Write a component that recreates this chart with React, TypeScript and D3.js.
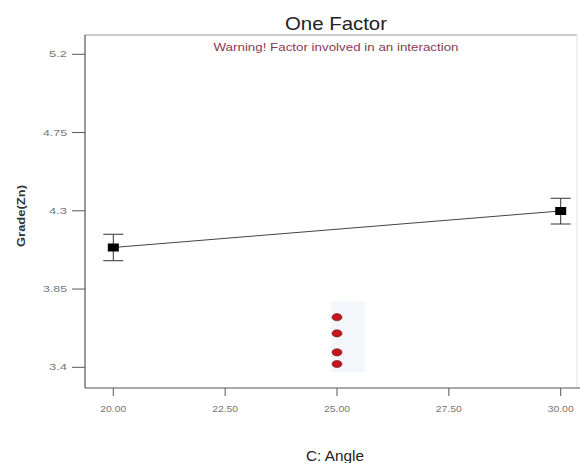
import React from "react";
import * as d3 from "d3";

const xTicks = [20, 22.5, 25, 27.5, 30];
const yTicks = [3.4, 3.85, 4.3, 4.75, 5.2];
const yTickLabels = ["3.4", "3.85", "4.3", "4.75", "5.2"];
const factorLevels = [20, 30];
const predicted = [4.089, 4.299];
const lowerCI = [4.013, 4.224];
const upperCI = [4.165, 4.372];
const designX = [25, 25, 25, 25];
const designY = [3.688, 3.595, 3.486, 3.419];

const W = 580;
const H = 463;
const left = 85;
const top = 35;
const right = 577;
const bottom = 388;

export default function App() {
  const x = d3.scaleLinear().domain([20, 30]).range([113.3, 560.7]);
  const y = d3.scaleLinear().domain([3.4, 5.2]).range([367.3, 54.3]);
  const line = d3
    .line<number>()
    .x((_, i) => x(factorLevels[i]))
    .y((d) => y(d));
  const tickFont = "Arial, 'Liberation Sans', sans-serif";
  return (
    <svg
      width={W}
      height={H}
      style={{ position: "absolute", left: 0, top: 0, background: "#fff" }}
      fontFamily={tickFont}
    >
      <rect x={0} y={0} width={W} height={H} fill="#fff" />
      {/* frame */}
      <line x1={left} y1={top} x2={right} y2={top} stroke="#9a9a9a" strokeWidth={1.2} />
      <line x1={right} y1={top} x2={right} y2={bottom} stroke="#e0e0e0" strokeWidth={1} />
      <line x1={left} y1={top} x2={left} y2={bottom} stroke="#555" strokeWidth={1.2} />
      <line x1={left} y1={bottom} x2={W} y2={bottom} stroke="#555" strokeWidth={1.2} />

      {/* title */}
      <text x={336} y={30} textAnchor="middle" fontSize={18.5} fill="#222" textLength={102} lengthAdjust="spacingAndGlyphs">
        One Factor
      </text>
      <text x={336} y={51} textAnchor="middle" fontSize={10.5} fill="#8a3a55" textLength={245} lengthAdjust="spacingAndGlyphs">
        Warning! Factor involved in an interaction
      </text>

      {/* y ticks */}
      {yTicks.map((t, i) => (
        <g key={"y" + i}>
          <line x1={72} x2={left} y1={y(t)} y2={y(t)} stroke="#555" strokeWidth={1} />
          <text x={67} y={y(t) + 3} textAnchor="end" fontSize={9} fill="#777"
            textLength={yTickLabels[i].length * 6} lengthAdjust="spacingAndGlyphs">
            {yTickLabels[i]}
          </text>
        </g>
      ))}
      {/* x ticks */}
      {xTicks.map((t, i) => (
        <g key={"x" + i}>
          <line x1={x(t)} x2={x(t)} y1={bottom} y2={bottom + 8} stroke="#555" strokeWidth={1} />
          <text x={x(t)} y={412} textAnchor="middle" fontSize={9.5} fill="#777" textLength={26} lengthAdjust="spacingAndGlyphs">
            {t.toFixed(2)}
          </text>
        </g>
      ))}

      {/* axis labels */}
      <text
        transform={`translate(25,216) rotate(-90)`}
        textAnchor="middle"
        fontSize={10.5}
        fontWeight="bold"
        fill="#333"
        textLength={62}
        lengthAdjust="spacingAndGlyphs"
      >
        Grade(Zn)
      </text>
      <text x={335} y={461} textAnchor="middle" fontSize={14.5} fill="#222" textLength={58} lengthAdjust="spacingAndGlyphs">
        C: Angle
      </text>

      {/* faint design point box */}
      <rect x={331} y={302} width={34} height={70} fill="#f3f7fb" />

      {/* design points */}
      {designX.map((d, i) => (
        <ellipse
          key={"d" + i}
          cx={x(d)}
          cy={y(designY[i])}
          rx={5}
          ry={3.6}
          fill="#c4161c"
          stroke="#6a1a10"
          strokeWidth={0.6}
        />
      ))}

      {/* effect line */}
      <path d={line(predicted) || ""} fill="none" stroke="#444" strokeWidth={1} />

      {/* error bars and markers */}
      {factorLevels.map((f, i) => (
        <g key={"e" + i}>
          <line x1={x(f)} x2={x(f)} y1={y(lowerCI[i])} y2={y(upperCI[i])} stroke="#333" strokeWidth={1} />
          <line x1={x(f) - 10} x2={x(f) + 10} y1={y(lowerCI[i])} y2={y(lowerCI[i])} stroke="#333" strokeWidth={1} />
          <line x1={x(f) - 10} x2={x(f) + 10} y1={y(upperCI[i])} y2={y(upperCI[i])} stroke="#333" strokeWidth={1} />
          <rect x={x(f) - 5.5} y={y(predicted[i]) - 4} width={11} height={8} fill="#000" />
        </g>
      ))}
    </svg>
  );
}
